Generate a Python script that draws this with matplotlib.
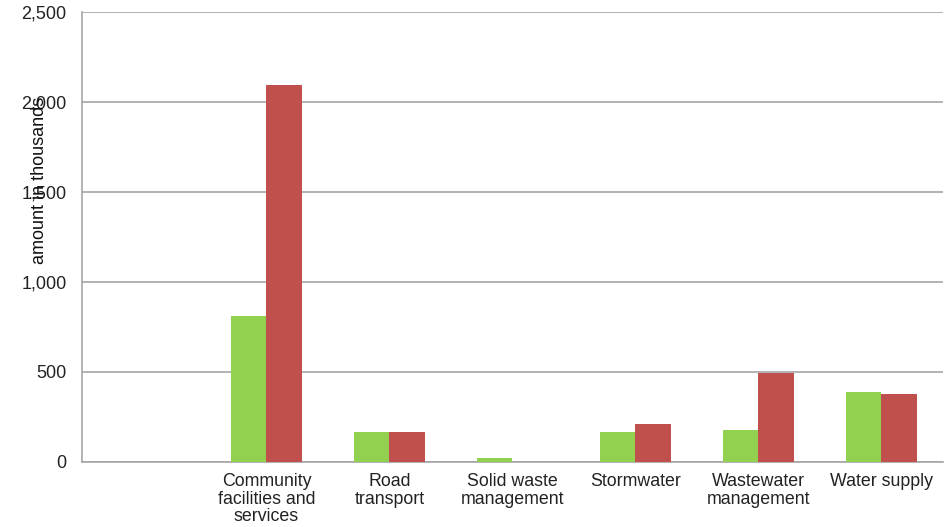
import numpy as np
import matplotlib.pyplot as plt

plt.rcParams['font.family'] = ['Liberation Sans', 'DejaVu Sans']

categories = ['', 'Community\nfacilities and\nservices', 'Road\ntransport',
              'Solid waste\nmanagement', 'Stormwater', 'Wastewater\nmanagement',
              'Water supply']
green_vals = [0, 811, 167, 24, 167, 178, 389]
red_vals = [0, 2092, 167, 0, 211, 493, 376]
y_ticks = [0, 500, 1000, 1500, 2000, 2500]

fig = plt.figure(figsize=(9.53, 5.27), dpi=100)
ax = fig.add_axes([82 / 953, 65 / 527, 861 / 953, 450 / 527])

x = np.arange(len(categories))
w = 0.285
ax.bar(x - w / 2, green_vals, width=w, color='#92D050', zorder=3)
ax.bar(x + w / 2, red_vals, width=w, color='#C0504D', zorder=3)

ax.set_xlim(-0.5, len(categories) - 0.5)
ax.set_ylim(0, 2500)
ax.set_yticks(y_ticks)
ax.set_yticklabels([f'{v:,}' for v in y_ticks], fontsize=13, color='#222222')
ax.set_xticks(x)
ax.set_xticklabels(categories, fontsize=12.8, color='#222222', linespacing=1.05)
ax.tick_params(axis='both', length=0)
ax.tick_params(axis='y', pad=11)
ax.tick_params(axis='x', pad=8)

ax.yaxis.grid(True, color='#a6a6a6', linewidth=1.2, zorder=0)
for s in ['top', 'right']:
    ax.spines[s].set_visible(False)
ax.spines['left'].set_color('#a6a6a6')
ax.spines['bottom'].set_color('#a6a6a6')
ax.spines['left'].set_linewidth(1.2)
ax.spines['bottom'].set_linewidth(1.2)

fig.text(40 / 953, 1 - 180 / 527, 'amount in thousands', rotation=90,
         ha='center', va='center', fontsize=13, color='#111111')

plt.savefig('out.png')
